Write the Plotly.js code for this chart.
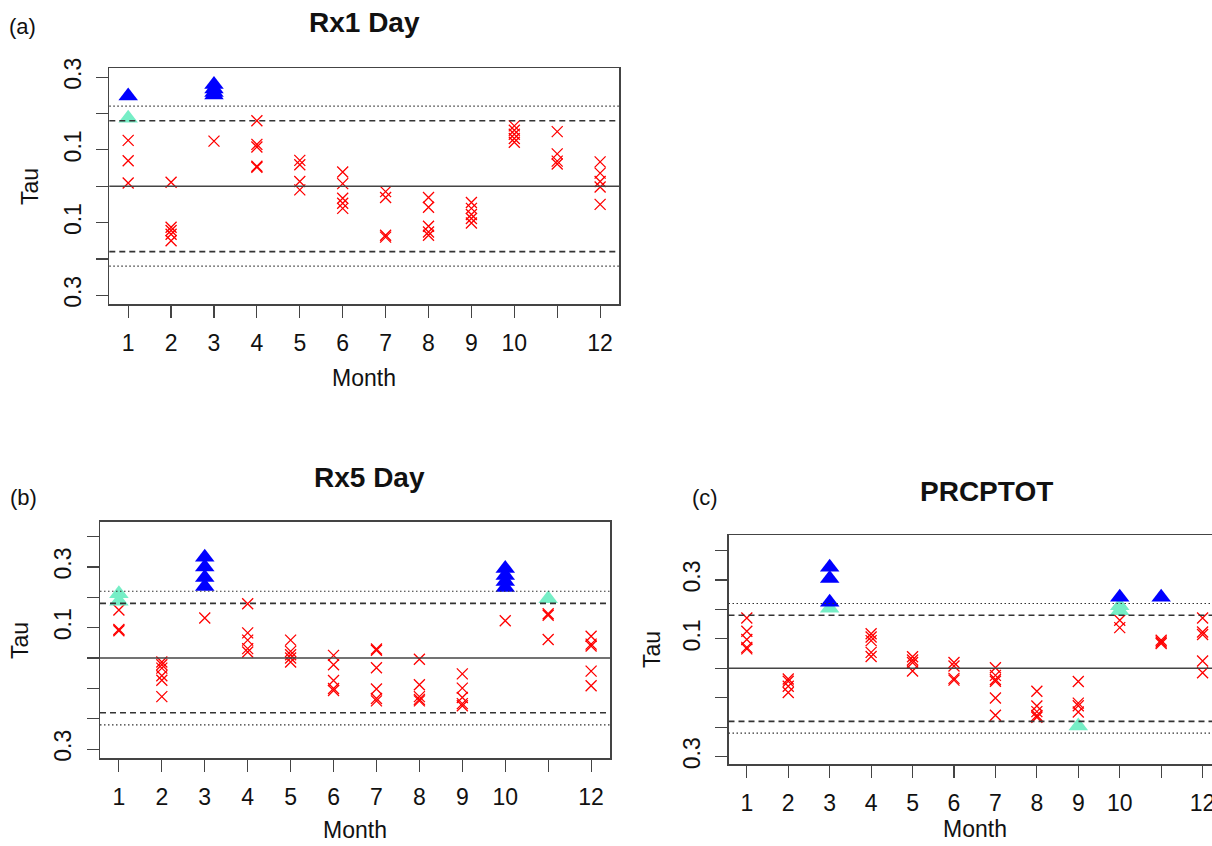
<!DOCTYPE html>
<html>
<head>
<meta charset="utf-8">
<script src="https://cdn.plot.ly/plotly-3.0.1.min.js"></script>
<style>html,body{margin:0;padding:0;background:#fff;}#chart{width:1212px;height:846px;}</style>
</head>
<body>
<div id="chart"></div>
<script>
// ---------- data (Mann-Kendall Tau by month) ----------
const monthTicks = [1,2,3,4,5,6,7,8,9,10,11,12];
const monthLabels = ['1','2','3','4','5','6','7','8','9','10','','12'];

// (a) Rx1 Day
const rx1CrossMonth = [1,1,1, 2,2,2,2,2, 3, 4,4,4,4,4, 5,5,5,5, 6,6,6,6,6, 7,7,7,7, 8,8,8,8,8, 9,9,9,9,9, 10,10,10,10,10, 11,11,11,11, 12,12,12,12,12];
const rx1CrossTau   = [0.126,0.070,0.009, 0.011,-0.113,-0.122,-0.132,-0.150, 0.124, 0.180,0.115,0.108,0.055,0.052, 0.071,0.059,0.013,-0.010, 0.039,0.007,-0.033,-0.047,-0.061, -0.015,-0.031,-0.135,-0.140, -0.031,-0.058,-0.110,-0.126,-0.135, -0.045,-0.061,-0.078,-0.089,-0.101, 0.166,0.154,0.143,0.131,0.121, 0.150,0.089,0.069,0.061, 0.067,0.036,0.013,-0.002,-0.050];
const rx1AquaMonth = [1];
const rx1AquaTau   = [0.187];
const rx1BlueMonth = [1, 3,3,3,3];
const rx1BlueTau   = [0.248, 0.280,0.267,0.258,0.251];

// (b) Rx5 Day
const rx5CrossMonth = [1,1,1, 2,2,2,2,2,2, 3, 4,4,4,4,4, 5,5,5,5,5, 6,6,6,6,6, 7,7,7,7,7,7, 8,8,8,8,8, 9,9,9,9,9, 10, 11,11,11, 12,12,12,12,12];
const rx5CrossTau   = [0.158,0.094,0.090, -0.013,-0.022,-0.033,-0.058,-0.073,-0.127, 0.132, 0.179,0.083,0.059,0.031,0.020, 0.059,0.022,0.011,0.000,-0.013, 0.009,-0.022,-0.074,-0.100,-0.107, 0.030,0.026,-0.032,-0.102,-0.133,-0.141, -0.004,-0.088,-0.127,-0.136,-0.141, -0.052,-0.099,-0.130,-0.150,-0.157, 0.123, 0.146,0.141,0.061, 0.072,0.046,0.040,-0.043,-0.091];
const rx5AquaMonth = [1,1, 11];
const rx5AquaTau   = [0.212,0.187, 0.195];
const rx5BlueMonth = [3,3,3,3, 10,10,10,10];
const rx5BlueTau   = [0.332,0.300,0.265,0.236, 0.295,0.272,0.252,0.232];

// (c) PRCPTOT
const prcCrossMonth = [1,1,1,1,1, 2,2,2,2, 4,4,4,4,4, 5,5,5,5, 6,6,6,6, 7,7,7,7,7,7, 8,8,8,8,8, 9,9,9,9, 10,10, 11,11,11, 12,12,12,12,12];
const prcCrossTau   = [0.171,0.126,0.098,0.071,0.066, -0.036,-0.044,-0.061,-0.082, 0.117,0.106,0.094,0.054,0.040, 0.039,0.028,0.020,-0.009, 0.020,0.008,-0.034,-0.040, 0.002,-0.024,-0.038,-0.044,-0.101,-0.159, -0.078,-0.128,-0.147,-0.160,-0.166, -0.045,-0.118,-0.127,-0.148, 0.163,0.138, 0.095,0.089,0.084, 0.171,0.123,0.115,0.025,-0.015];
const prcAquaMonth = [3, 9, 10,10];
const prcAquaTau   = [0.204, -0.196, 0.212,0.195];
const prcBlueMonth = [3,3,3, 10, 11];
const prcBlueTau   = [0.343,0.305,0.224, 0.241, 0.241];

// significance reference levels
const dashedLevel = 0.18;
const dottedLevel = 0.22;

// y tick labels (absolute value shown)
const yTicksA = [-0.3,-0.2,-0.1,0,0.1,0.2,0.3];
const yLabelsA = ['0.3','','0.1','','0.1','','0.3'];
const yTicksBC = [-0.3,-0.2,-0.1,0,0.1,0.2,0.3,0.4];
const yLabelsBC = ['0.3','','','','0.1','','0.3',''];

// ---------- styling ----------
const FONT = 'Liberation Sans, Arial, Helvetica, sans-serif';
const AXC = '#444444';
const RED = '#ff0000', BLUE = '#0000ff', AQUA = '#76eec6';

function crossTrace(x, y, xa, ya) {
  return {x, y, xaxis: xa, yaxis: ya, type: 'scatter', mode: 'markers', hoverinfo: 'x+y',
    marker: {symbol: 'x-thin-open', size: 11, color: RED, line: {color: RED, width: 1.3}}, showlegend: false};
}
function triTrace(x, y, xa, ya, col) {
  return {x, y, xaxis: xa, yaxis: ya, type: 'scatter', mode: 'markers', hoverinfo: 'x+y',
    marker: {symbol: 'triangle-up', size: 17, color: col, line: {width: 0}}, showlegend: false};
}

const data = [
  crossTrace(rx1CrossMonth, rx1CrossTau, 'x', 'y'),
  triTrace(rx1AquaMonth, rx1AquaTau, 'x', 'y', AQUA),
  triTrace(rx1BlueMonth, rx1BlueTau, 'x', 'y', BLUE),
  crossTrace(rx5CrossMonth, rx5CrossTau, 'x2', 'y2'),
  triTrace(rx5AquaMonth, rx5AquaTau, 'x2', 'y2', AQUA),
  triTrace(rx5BlueMonth, rx5BlueTau, 'x2', 'y2', BLUE),
  crossTrace(prcCrossMonth, prcCrossTau, 'x3', 'y3'),
  triTrace(prcAquaMonth, prcAquaTau, 'x3', 'y3', AQUA),
  triTrace(prcBlueMonth, prcBlueTau, 'x3', 'y3', BLUE)
];

function xAxis(domain, range, anchor) {
  return {domain, range, anchor, tickmode: 'array', tickvals: monthTicks, ticktext: monthLabels,
    ticks: 'outside', ticklen: 12, tickwidth: 1.2, tickcolor: AXC, showgrid: false, zeroline: false,
    showline: true, mirror: true, linecolor: AXC, linewidth: 1.5, ticklabeloverflow: 'allow',
    tickfont: {family: FONT, size: 23, color: '#111'}, ticklabelstandoff: 6, fixedrange: true};
}
function yAxis(domain, range, anchor, vals, labels, mirror) {
  return {domain, range, anchor, tickmode: 'array', tickvals: vals, ticktext: labels,
    ticks: 'outside', ticklen: 12, tickwidth: 1.2, tickcolor: AXC, showgrid: false, zeroline: false,
    showline: true, mirror: mirror, linecolor: AXC, linewidth: 1.5, tickangle: -90,
    tickfont: {family: FONT, size: 23, color: '#111'}, ticklabelstandoff: 6, fixedrange: true};
}

function refLines(xd, ya) {
  const s = [];
  s.push({type: 'line', xref: xd, x0: 0, x1: 1, yref: ya, y0: 0, y1: 0, line: {color: AXC, width: 1.5}});
  [dashedLevel, -dashedLevel].forEach(v => s.push({type: 'line', xref: xd, x0: 0, x1: 1, yref: ya, y0: v, y1: v, line: {color: '#333', width: 1.6, dash: '6px,4px'}}));
  [dottedLevel, -dottedLevel].forEach(v => s.push({type: 'line', xref: xd, x0: 0, x1: 1, yref: ya, y0: v, y1: v, line: {color: '#333', width: 1.2, dash: '1.5px,2.5px'}}));
  return s;
}

function ann(text, x, y, size, angle) {
  return {text, x, y, xref: 'paper', yref: 'paper', xanchor: 'center', yanchor: 'middle', showarrow: false,
    textangle: angle || 0, font: {family: FONT, size, color: '#111'}};
}

const W = 1212, H = 846;
const px = v => v / W, py = v => 1 - v / H;

const layout = {
  width: W, height: H, margin: {l: 0, r: 0, t: 0, b: 0},
  paper_bgcolor: '#fff', plot_bgcolor: '#fff', showlegend: false,
  xaxis: xAxis([px(109.3), px(619)], [0.56, 12.44], 'y'),
  yaxis: yAxis([py(304), py(68.4)], [-0.324, 0.324], 'x', yTicksA, yLabelsA, true),
  xaxis2: xAxis([px(100), px(610)], [0.56, 12.44], 'y2'),
  yaxis2: yAxis([py(758), py(521.7)], [-0.329, 0.449], 'x2', yTicksBC, yLabelsBC, true),
  xaxis3: xAxis([px(728.5), 1], [0.558, 12.227], 'y3'),
  yaxis3: yAxis([py(764.1), py(535.1)], [-0.325, 0.452], 'x3', yTicksBC, yLabelsBC, false),
  shapes: [].concat(refLines('x domain', 'y'), refLines('x2 domain', 'y2'), refLines('x3 domain', 'y3')),
  annotations: [
    ann('(a)', px(22), py(26.5), 22),
    ann('<b>Rx1 Day</b>', px(364), py(23), 28),
    ann('Tau', px(30), py(187), 23, -90),
    ann('Month', px(364), py(378), 23),
    ann('(b)', px(23), py(498), 22),
    ann('<b>Rx5 Day</b>', px(370), py(477), 28),
    ann('Tau', px(20), py(640), 23, -90),
    ann('Month', px(355), py(830), 23),
    ann('(c)', px(705), py(498), 22),
    ann('<b>PRCPTOT</b>', px(986), py(492), 28),
    ann('Tau', px(652), py(650), 23, -90),
    ann('Month', px(975), py(829), 23)
  ]
};

Plotly.newPlot('chart', data, layout, {displayModeBar: false, staticPlot: true});
</script>
</body>
</html>
